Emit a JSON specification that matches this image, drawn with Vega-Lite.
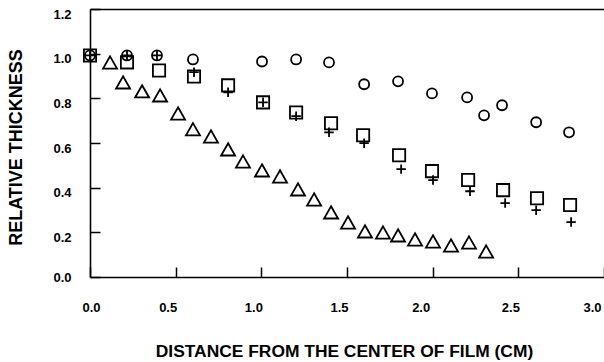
{
  "$schema": "https://vega.github.io/schema/vega-lite/v6.json",
  "width": 514,
  "height": 268,
  "autosize": {"type": "none"},
  "padding": {"left": 90, "top": 9, "right": 0, "bottom": 85},
  "background": "white",
  "config": {
    "view": {"stroke": null},
    "axis": {
      "domainColor": "black", "domainWidth": 1.6, "tickColor": "black", "tickWidth": 1.5, "grid": false,
      "labelFont": "Liberation Sans", "labelFontWeight": "bold", "labelFontSize": 13, "labelColor": "black",
      "titleFont": "Liberation Sans", "titleFontWeight": "bold", "titleFontSize": 17.4, "titleColor": "black"
    }
  },
  "datasets": {
    "pts": [
      {"series": "circle", "x": 0, "y": 0.992},
      {"series": "circle", "x": 0.216, "y": 0.992},
      {"series": "circle", "x": 0.391, "y": 0.992},
      {"series": "circle", "x": 0.601, "y": 0.974},
      {"series": "circle", "x": 1.004, "y": 0.965},
      {"series": "circle", "x": 1.203, "y": 0.974},
      {"series": "circle", "x": 1.395, "y": 0.961},
      {"series": "circle", "x": 1.6, "y": 0.863},
      {"series": "circle", "x": 1.798, "y": 0.876},
      {"series": "circle", "x": 1.996, "y": 0.822},
      {"series": "circle", "x": 2.201, "y": 0.804},
      {"series": "circle", "x": 2.3, "y": 0.724},
      {"series": "circle", "x": 2.405, "y": 0.769},
      {"series": "circle", "x": 2.604, "y": 0.693},
      {"series": "circle", "x": 2.796, "y": 0.648},
      {"series": "square", "x": 0, "y": 0.992},
      {"series": "square", "x": 0.216, "y": 0.961},
      {"series": "square", "x": 0.403, "y": 0.925},
      {"series": "square", "x": 0.607, "y": 0.898},
      {"series": "square", "x": 0.806, "y": 0.858},
      {"series": "square", "x": 1.01, "y": 0.782},
      {"series": "square", "x": 1.203, "y": 0.737},
      {"series": "square", "x": 1.407, "y": 0.688},
      {"series": "square", "x": 1.594, "y": 0.635},
      {"series": "square", "x": 1.804, "y": 0.545},
      {"series": "square", "x": 1.996, "y": 0.474},
      {"series": "square", "x": 2.207, "y": 0.434},
      {"series": "square", "x": 2.411, "y": 0.389},
      {"series": "square", "x": 2.609, "y": 0.353},
      {"series": "square", "x": 2.802, "y": 0.322},
      {"series": "plus", "x": 0, "y": 0.992},
      {"series": "plus", "x": 0.216, "y": 0.992},
      {"series": "plus", "x": 0.391, "y": 0.992},
      {"series": "plus", "x": 0.607, "y": 0.917},
      {"series": "plus", "x": 0.806, "y": 0.827},
      {"series": "plus", "x": 1.01, "y": 0.782},
      {"series": "plus", "x": 1.203, "y": 0.72},
      {"series": "plus", "x": 1.395, "y": 0.648},
      {"series": "plus", "x": 1.6, "y": 0.599},
      {"series": "plus", "x": 1.816, "y": 0.483},
      {"series": "plus", "x": 2.002, "y": 0.434},
      {"series": "plus", "x": 2.218, "y": 0.384},
      {"series": "plus", "x": 2.423, "y": 0.331},
      {"series": "plus", "x": 2.604, "y": 0.299},
      {"series": "plus", "x": 2.808, "y": 0.246},
      {"series": "triangle", "x": 0.117, "y": 0.958},
      {"series": "triangle", "x": 0.193, "y": 0.869},
      {"series": "triangle", "x": 0.304, "y": 0.829},
      {"series": "triangle", "x": 0.409, "y": 0.811},
      {"series": "triangle", "x": 0.514, "y": 0.73},
      {"series": "triangle", "x": 0.601, "y": 0.659},
      {"series": "triangle", "x": 0.706, "y": 0.627},
      {"series": "triangle", "x": 0.806, "y": 0.569},
      {"series": "triangle", "x": 0.893, "y": 0.515},
      {"series": "triangle", "x": 1.004, "y": 0.475},
      {"series": "triangle", "x": 1.109, "y": 0.448},
      {"series": "triangle", "x": 1.214, "y": 0.39},
      {"series": "triangle", "x": 1.308, "y": 0.345},
      {"series": "triangle", "x": 1.407, "y": 0.287},
      {"series": "triangle", "x": 1.506, "y": 0.242},
      {"series": "triangle", "x": 1.605, "y": 0.202},
      {"series": "triangle", "x": 1.71, "y": 0.197},
      {"series": "triangle", "x": 1.798, "y": 0.184},
      {"series": "triangle", "x": 1.897, "y": 0.166},
      {"series": "triangle", "x": 2.002, "y": 0.157},
      {"series": "triangle", "x": 2.107, "y": 0.139},
      {"series": "triangle", "x": 2.212, "y": 0.152},
      {"series": "triangle", "x": 2.312, "y": 0.112}
    ]
  },
  "data": {"name": "pts"},
  "layer": [
    {
      "transform": [{"filter": "datum.series == 'circle'"}],
      "mark": {"type": "point", "shape": "circle", "size": 100, "filled": false, "stroke": "black", "strokeWidth": 1.8, "opacity": 1},
      "encoding": {
        "x": {
          "field": "x", "type": "quantitative",
          "scale": {"domain": [0, 3], "nice": false, "zero": false},
          "axis": {
            "orient": "bottom", "domain": true, "values": [0, 0.5, 1, 1.5, 2, 2.5, 3], "format": ".1f",
            "ticks": true, "tickSize": -10, "labelPadding": 34, "labelFlush": false,
            "labelOffset": {"condition": [{"test": "datum.value == 0", "value": 1}, {"test": "datum.value >= 2 && datum.value != 2.5", "value": -12}], "value": -8},
            "title": "DISTANCE FROM THE CENTER OF FILM (CM)", "titleX": 254, "titleY": 74, "titleBaseline": "middle"
          }
        },
        "y": {
          "field": "y", "type": "quantitative",
          "scale": {"domain": [0, 1.2], "nice": false, "zero": false},
          "axis": {
            "orient": "left", "domain": true,
            "values": [0, 0.2, 0.4, 0.6, 0.8, 1.0, 1.2], "format": ".1f",
            "ticks": true, "tickSize": -10, "labelPadding": 29,
            "labelOffset": {"condition": {"test": "datum.value == 0", "value": 0}, "value": 5},
            "title": "RELATIVE THICKNESS", "titleFontSize": 18, "titleX": -74, "titleY": 138, "titleBaseline": "middle", "titleAngle": -90
          }
        }
      }
    },
    {
      "transform": [{"filter": "datum.series == 'square'"}],
      "mark": {"type": "point", "shape": "square", "size": 150, "filled": false, "stroke": "black", "strokeWidth": 1.8, "opacity": 1},
      "encoding": {
        "x": {
          "field": "x", "type": "quantitative",
          "scale": {"domain": [0, 3], "nice": false, "zero": false},
          "axis": {"orient": "top", "domain": true, "ticks": false, "labels": false, "title": null}
        },
        "y": {"field": "y", "type": "quantitative", "scale": {"domain": [0, 1.2], "nice": false, "zero": false}, "axis": null}
      }
    },
    {
      "transform": [{"filter": "datum.series == 'plus'"}],
      "mark": {"type": "point", "shape": "M-1,0H1M0,-1V1", "size": 90, "filled": false, "stroke": "black", "strokeWidth": 1.8, "opacity": 1},
      "encoding": {
        "x": {"field": "x", "type": "quantitative", "scale": {"domain": [0, 3], "nice": false, "zero": false}, "axis": null},
        "y": {"field": "y", "type": "quantitative", "scale": {"domain": [0, 1.2], "nice": false, "zero": false}, "axis": null}
      }
    },
    {
      "transform": [{"filter": "datum.series == 'triangle'"}],
      "mark": {"type": "point", "shape": "M0,-0.95L1,0.8L-1,0.8Z", "size": 196, "filled": false, "stroke": "black", "strokeWidth": 1.8, "opacity": 1},
      "encoding": {
        "x": {"field": "x", "type": "quantitative", "scale": {"domain": [0, 3], "nice": false, "zero": false}, "axis": null},
        "y": {"field": "y", "type": "quantitative", "scale": {"domain": [0, 1.2], "nice": false, "zero": false}, "axis": null}
      }
    }
  ],
  "resolve": {"axis": {"x": "independent", "y": "independent"}}
}
